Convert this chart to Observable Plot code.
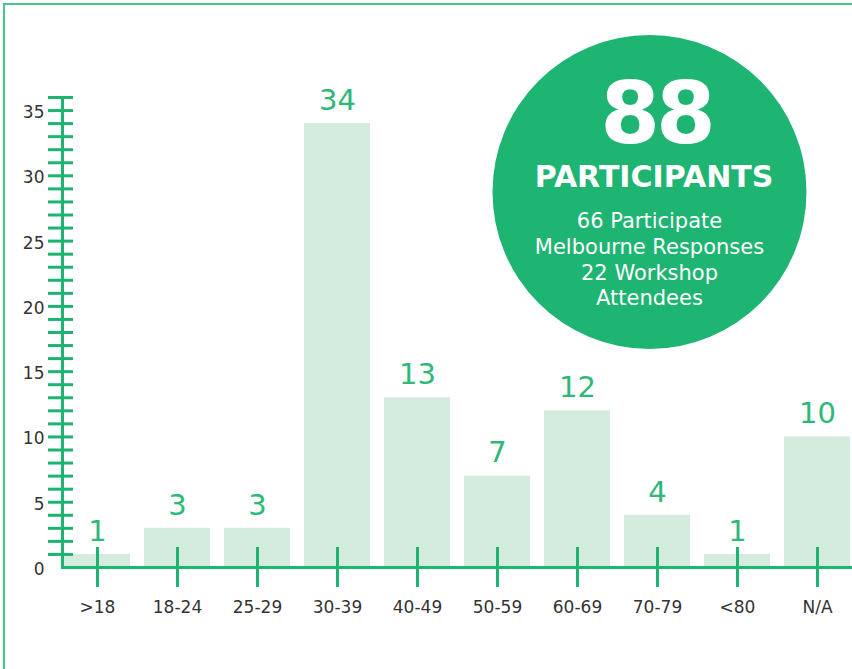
<!DOCTYPE html>
<html><head><meta charset="utf-8">
<script src="https://cdn.jsdelivr.net/npm/d3@7"></script>
<script src="https://cdn.jsdelivr.net/npm/@observablehq/plot@0.6"></script>
<style>
html,body{margin:0;padding:0;background:#fff;}
#wrap{position:relative;width:852px;height:669px;overflow:hidden;background:#fff;}
#chart{position:absolute;left:0;top:0;}
#badge{position:absolute;left:0;top:0;pointer-events:none;}
#frame{position:absolute;left:3px;top:3px;width:900px;height:700px;border-top:2px solid #48c68e;border-left:2px solid #48c68e;pointer-events:none;}
</style></head><body>
<div id="wrap"><div id="chart"></div><div id="badge"></div><div id="frame"></div></div>
<script>
// ---- data ----
const ageGroups = [">18", "18-24", "25-29", "30-39", "40-49", "50-59", "60-69", "70-79", "<80", "N/A"];
const counts = [1, 3, 3, 34, 13, 7, 12, 4, 1, 10];
const yLabelTicks = [0, 5, 10, 15, 20, 25, 30, 35];
const yMinorTicks = [1, 2, 3, 4, 5, 6, 7, 8, 9, 10, 11, 12, 13, 14, 15, 16, 17, 18, 19, 20, 21, 22, 23, 24, 25, 26, 27, 28, 29, 30, 31, 32, 33, 34, 35, 36];
const badgeNumber = "88";
const badgeTitle = "PARTICIPANTS";
const badgeLines = ["66 Participate", "Melbourne Responses", "22 Workshop", "Attendees"];

// ---- chart ----
const data = ageGroups.map((age, i) => ({age, count: counts[i]}));
const green = "#1db371";
const font = "'DejaVu Sans', sans-serif";

const chart = Plot.plot({
  width: 852, height: 669,
  marginTop: 97, marginBottom: 102, marginLeft: 62, marginRight: 0,
  style: {fontFamily: font, fontSize: "17px", color: "#333", background: "transparent", overflow: "visible"},
  x: {domain: ageGroups, paddingInner: 0.17, paddingOuter: 0, label: null},
  y: {domain: [0, 36], label: null},
  marks: [
    Plot.barY(data, {x: "age", y: "count", fill: "#d3ecdd"}),
    Plot.frame({anchor: "left", stroke: green, strokeWidth: 3}),
    Plot.ruleY([0], {stroke: green, strokeWidth: 3}),
    Plot.axisY(yMinorTicks, {tickSize: 25, dx: 11, stroke: green, strokeWidth: 3, fill: "none", label: null}),
    Plot.axisY(yLabelTicks, {tickSize: 0, tickPadding: 18, dy: 2, fill: "#333", fontSize: 17, label: null}),
    Plot.axisX({tickSize: 40, dy: -20, stroke: green, strokeWidth: 3, fill: "none", label: null}),
    Plot.axisX({tickSize: 0, tickPadding: 33, fill: "#333", fontSize: 17, label: null}),
    Plot.text(data, {x: "age", y: "count", text: d => String(d.count), dy: -23, fontSize: 29, fill: "#2db877"})
  ]
});
document.getElementById("chart").appendChild(chart);

// ---- badge annotation ----
const svg = d3.select("#badge").append("svg").attr("width", 852).attr("height", 669)
  .style("font-family", font);
svg.append("circle").attr("cx", 649.5).attr("cy", 192).attr("r", 157).attr("fill", "#1eb472");
svg.append("text").attr("x", 656).attr("y", 143).attr("text-anchor", "middle")
  .attr("fill", "#fff").attr("font-weight", "bold").attr("font-size", 86).attr("letter-spacing", -4)
  .text(badgeNumber);
svg.append("text").attr("x", 654).attr("y", 187).attr("text-anchor", "middle")
  .attr("fill", "#fff").attr("font-weight", "bold").attr("font-size", 30)
  .text(badgeTitle);
const lineY = [228, 254, 280, 305];
badgeLines.forEach((t, i) => {
  svg.append("text").attr("x", 649.5).attr("y", lineY[i]).attr("text-anchor", "middle")
    .attr("fill", "#fff").attr("font-size", 21).text(t);
});
</script>
</body></html>
